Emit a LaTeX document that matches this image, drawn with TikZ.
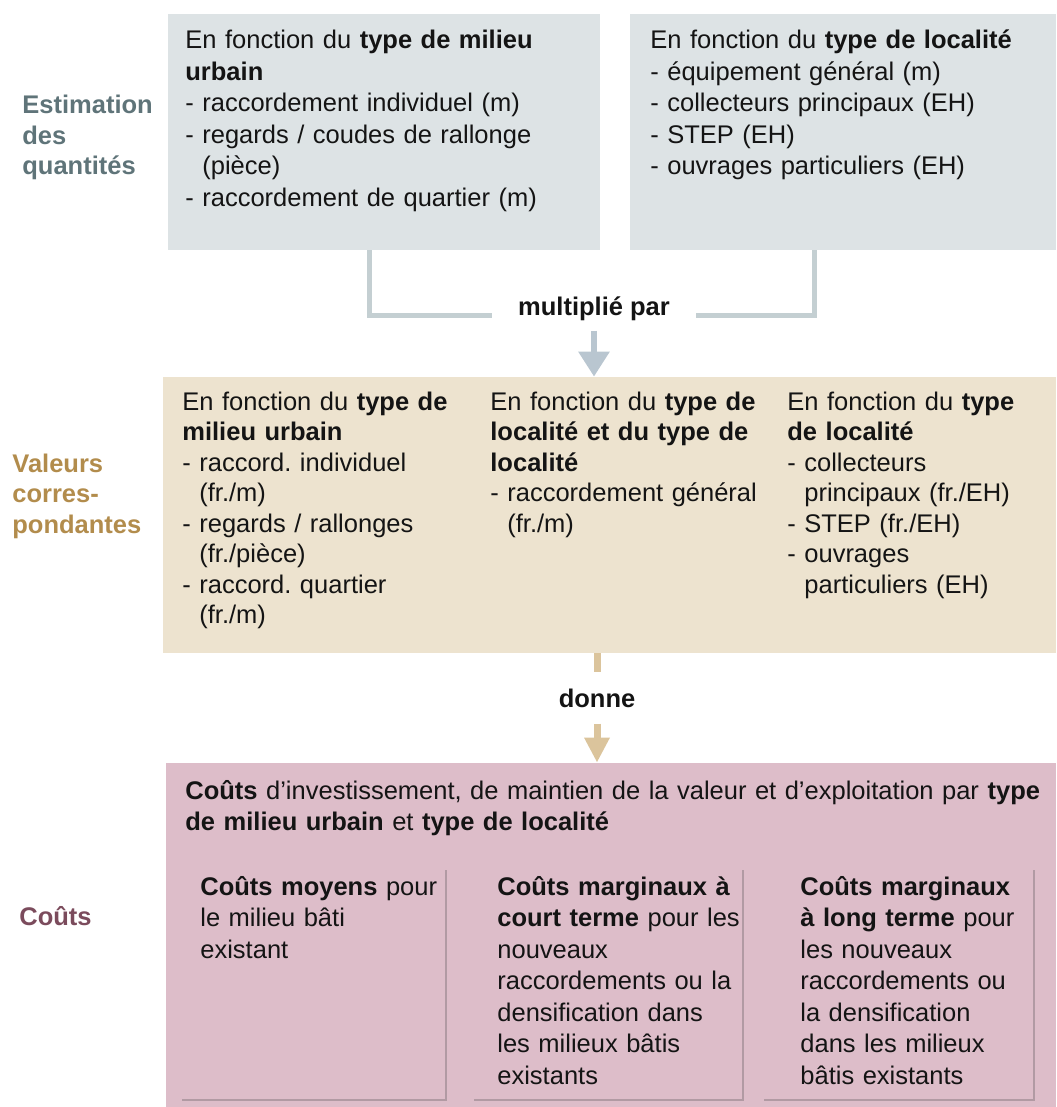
\documentclass[tikz,border=0pt]{standalone}
\usepackage{fontspec}
\setmainfont{Liberation Sans}
\usetikzlibrary{arrows.meta}
\usetikzlibrary{fit}
\usetikzlibrary{shadows}

\definecolor{qtyfill}{RGB}{221,227,229}
\definecolor{qtytext}{RGB}{95,116,121}
\definecolor{valfill}{RGB}{237,227,207}
\definecolor{valtext}{RGB}{178,140,76}
\definecolor{costfill}{RGB}{221,189,201}
\definecolor{costtext}{RGB}{123,75,92}
\definecolor{bracketgrey}{RGB}{196,207,210}
\definecolor{arrowgrey}{RGB}{185,198,208}
\definecolor{arrowtan}{RGB}{219,196,156}
\definecolor{ink}{RGB}{20,20,20}

\newcommand{\indt}{\hphantom{- }}
\frenchspacing

\begin{document}
\begin{tikzpicture}[x=0.5pt,y=-0.5pt,
    box/.style={inner sep=0pt},
    sub/.style={box, fill=costfill, drop shadow={shadow xshift=1pt, shadow yshift=-1pt, opacity=0.3, fill=black!70}},
    txt/.style={anchor=base west, inner sep=0pt, text width=440pt, align=left, text=ink, font=\fontsize{12.75}{15.75}\selectfont},
    txtval/.style={txt, font=\fontsize{12.75}{15.25}\selectfont},
    side/.style={txt, font=\fontsize{12.75}{15.25}\selectfont\bfseries},
    bracket/.style={bracketgrey, line width=2.5pt},
]
    \useasboundingbox (0,0) rectangle (1056,1107);

    % boxes
    \node[box, fill=qtyfill, fit={(168,14) (600,250)}] (qa) {};
    \node[box, fill=qtyfill, fit={(630,14) (1056,250)}] (qb) {};
    \node[box, fill=valfill, fit={(163,377) (1056,653)}] (val) {};
    \node[box, fill=costfill, fit={(166,763) (1056,1107)}] (cost) {};
    \node[sub, fit={(180,868) (445,1099)}] (ca) {};
    \node[sub, fit={(472,868) (742,1099)}] (cb) {};
    \node[sub, fit={(762,868) (1033,1099)}] (cc) {};

    % row labels
    \node[side, text=qtytext] (qlabel) at (22,114) {Estimation\\des\\quantités};
    \node[side, text=valtext] (vlabel) at (12,472) {Valeurs\\corres-\\pondantes};
    \node[side, text=costtext] (clabel) at (19,925) {Coûts};

    % quantities
    \node[txt] (qatxt) at (185,49) {En fonction du \textbf{type de milieu}\\\textbf{urbain}\\- raccordement individuel (m)\\- regards / coudes de rallonge\\\indt(pièce)\\- raccordement de quartier (m)};
    \node[txt] (qbtxt) at (650,49) {En fonction du \textbf{type de localité}\\- équipement général (m)\\- collecteurs principaux (EH)\\- STEP (EH)\\- ouvrages particuliers (EH)};

    % values
    \node[txtval] (vatxt) at (182,410) {En fonction du \textbf{type de}\\\textbf{milieu urbain}\\- raccord. individuel\\\indt(fr./m)\\- regards / rallonges\\\indt(fr./pièce)\\- raccord. quartier\\\indt(fr./m)};
    \node[txtval] (vbtxt) at (490,410) {En fonction du \textbf{type de}\\\textbf{localité et du type de}\\\textbf{localité}\\- raccordement général\\\indt(fr./m)};
    \node[txtval] (vctxt) at (787,410) {En fonction du \textbf{type}\\\textbf{de localité}\\- collecteurs\\\indt principaux (fr./EH)\\- STEP (fr./EH)\\- ouvrages\\\indt particuliers (EH)};

    % costs
    \node[txt] (costtxt) at (185,799) {\textbf{Coûts} d’investissement, de maintien de la valeur et d’exploitation par \textbf{type}\\\textbf{de milieu urbain} et \textbf{type de localité}};
    \node[txt] (catxt) at (200,895) {\textbf{Coûts moyens} pour\\le milieu bâti\\existant};
    \node[txt] (cbtxt) at (497,895) {\textbf{Coûts marginaux à}\\\textbf{court terme} pour les\\nouveaux\\raccordements ou la\\densification dans\\les milieux bâtis\\existants};
    \node[txt] (cctxt) at (800,895) {\textbf{Coûts marginaux}\\\textbf{à long terme} pour\\les nouveaux\\raccordements ou\\la densification\\dans les milieux\\bâtis existants};

    % connectors
    \node[anchor=base, inner xsep=13pt, inner ysep=5pt, text=ink, font=\fontsize{12.75}{15}\selectfont\bfseries] (mult) at (594,315) {multiplié par};
    \draw[bracket] ([xshift=101pt]qa.south west) |- (mult.base west);
    \draw[bracket] ([xshift=92.5pt]qb.south west) |- (mult.base east);
    \draw[arrowgrey, line width=3pt, -{Triangle[width=15pt,length=12.5pt]}] (mult.south) -- (mult.south |- val.north);

    \node[anchor=base, inner xsep=6pt, inner ysep=8pt, text=ink, font=\fontsize{12.75}{15}\selectfont\bfseries] (donne) at (597,707) {donne};
    \draw[arrowtan, line width=3.5pt] (val.south -| donne.north) -- (donne.north);
    \draw[arrowtan, line width=3.5pt, -{Triangle[width=12pt,length=12.5pt]}] (donne.south) -- (donne.south |- cost.north);
\end{tikzpicture}
\end{document}
